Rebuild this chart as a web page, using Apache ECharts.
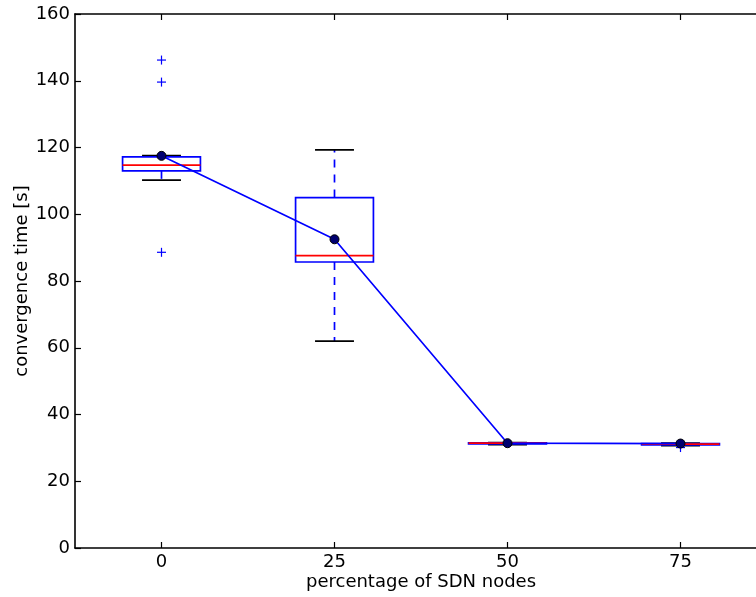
<!DOCTYPE html>
<html>
<head>
<meta charset="utf-8">
<script src="https://cdn.jsdelivr.net/npm/echarts@6/dist/echarts.min.js"></script>
<style>
  html, body { margin: 0; padding: 0; background: #fff; }
  #chart { width: 756px; height: 597px; }
</style>
</head>
<body>
<div id="chart"></div>
<script>
// Share of SDN-enabled nodes (x positions of the boxes)
const sdnShare = [0, 25, 50, 75];
// Box statistics per group: whisker ends, quartiles, median
const whiskerLow  = [110.2, 62.0, 31.0, 30.7];
const quartile1   = [113.0, 85.7, 31.2, 30.9];
const medians     = [114.7, 87.6, 31.4, 31.15];
const quartile3   = [117.2, 105.0, 31.5, 31.3];
const whiskerHigh = [117.6, 119.3, 31.6, 31.4];
// Mean convergence time per group
const means = [117.5, 92.5, 31.4, 31.3];
// Outliers: [group, value]
const fliers = [[0, 146.2], [0, 139.6], [0, 88.6], [75, 30.1]];
// Tick values
const xTicks = [0, 25, 50, 75];

const BOX_HALF = 5.625;   // half box width in data units
const CAP_HALF = 2.8125;  // half whisker-cap width in data units
const FONT = 'DejaVu Sans';
const FS = 18;
const LW = 1.7;

const boxData = sdnShare.map((x, i) => [x, whiskerLow[i], quartile1[i], medians[i], quartile3[i], whiskerHigh[i]]);
const meanData = sdnShare.map((x, i) => [x, means[i]]);

function renderBox(params, api) {
  const x = api.value(0);
  const lo = api.value(1), b1 = api.value(2), md = api.value(3), b3 = api.value(4), hi = api.value(5);
  const p = (xx, yy) => api.coord([xx, yy]);
  const line = (a, b, style) => ({ type: 'line', shape: { x1: a[0], y1: a[1], x2: b[0], y2: b[1] }, style });
  const blueDash = { stroke: '#0000ff', lineWidth: LW, lineDash: [8, 7] };
  const capStyle = { stroke: '#000000', lineWidth: LW };
  const tl = p(x - BOX_HALF, b3), br = p(x + BOX_HALF, b1);
  return {
    type: 'group',
    children: [
      line(p(x, b3), p(x, hi), blueDash),
      line(p(x, b1), p(x, lo), blueDash),
      line(p(x - CAP_HALF, hi), p(x + CAP_HALF, hi), capStyle),
      line(p(x - CAP_HALF, lo), p(x + CAP_HALF, lo), capStyle),
      { type: 'rect', shape: { x: tl[0], y: tl[1], width: br[0] - tl[0], height: br[1] - tl[1] },
        style: { fill: null, stroke: '#0000ff', lineWidth: LW } },
      line(p(x - BOX_HALF, md), p(x + BOX_HALF, md), { stroke: '#ff0000', lineWidth: LW })
    ]
  };
}

function renderFlier(params, api) {
  const c = api.coord([api.value(0), api.value(1)]);
  const h = 4.5;
  const st = { stroke: '#0000ff', lineWidth: 1.2 };
  return {
    type: 'group',
    children: [
      { type: 'line', shape: { x1: c[0] - h, y1: c[1], x2: c[0] + h, y2: c[1] }, style: st },
      { type: 'line', shape: { x1: c[0], y1: c[1] - h, x2: c[0], y2: c[1] + h }, style: st }
    ]
  };
}

const chart = echarts.init(document.getElementById('chart'), null, { renderer: 'canvas' });
const axisLine = { show: true, onZero: false, lineStyle: { color: '#000', width: 1.6 } };
chart.setOption({
  animation: false,
  backgroundColor: '#ffffff',
  grid: { left: 75, top: 14, width: 692, height: 534, containLabel: false, outerBoundsMode: 'none' },
  xAxis: [
    {
      type: 'value', position: 'bottom', min: -12.5, max: 87.5,
      axisLine: axisLine,
      axisTick: { show: true, inside: true, length: 6, customValues: xTicks, lineStyle: { color: '#000', width: 1.2 } },
      axisLabel: { customValues: xTicks, fontSize: FS, color: '#000', fontFamily: FONT, margin: 5 },
      splitLine: { show: false },
      name: 'percentage of SDN nodes', nameLocation: 'middle', nameGap: 25, nameMoveOverlap: false,
      nameTextStyle: { fontSize: FS, color: '#000', fontFamily: FONT }
    },
    {
      type: 'value', position: 'top', min: -12.5, max: 87.5,
      axisLine: axisLine,
      axisTick: { show: true, inside: true, length: 6, customValues: xTicks, lineStyle: { color: '#000', width: 1.2 } },
      axisLabel: { show: false },
      splitLine: { show: false }
    }
  ],
  yAxis: {
    type: 'value', min: 0, max: 160, interval: 20,
    axisLine: axisLine,
    axisTick: { show: true, inside: true, length: 6, lineStyle: { color: '#000', width: 1.2 } },
    axisLabel: { fontSize: FS, color: '#000', fontFamily: FONT, margin: 5 },
    splitLine: { show: false },
    name: 'convergence time [s]', nameLocation: 'middle', nameGap: 44, nameRotate: 90, nameMoveOverlap: false,
    nameTextStyle: { fontSize: FS, color: '#000', fontFamily: FONT }
  },
  series: [
    { type: 'custom', xAxisIndex: 0, renderItem: renderBox, data: boxData, z: 2 },
    { type: 'custom', xAxisIndex: 0, renderItem: renderFlier, data: fliers, z: 2 },
    {
      type: 'line', xAxisIndex: 0, data: meanData, z: 3,
      lineStyle: { color: '#0000ff', width: LW },
      symbol: 'circle', symbolSize: 9,
      itemStyle: { color: '#000070', borderColor: '#000000', borderWidth: 1 }
    }
  ]
});
</script>
</body>
</html>
